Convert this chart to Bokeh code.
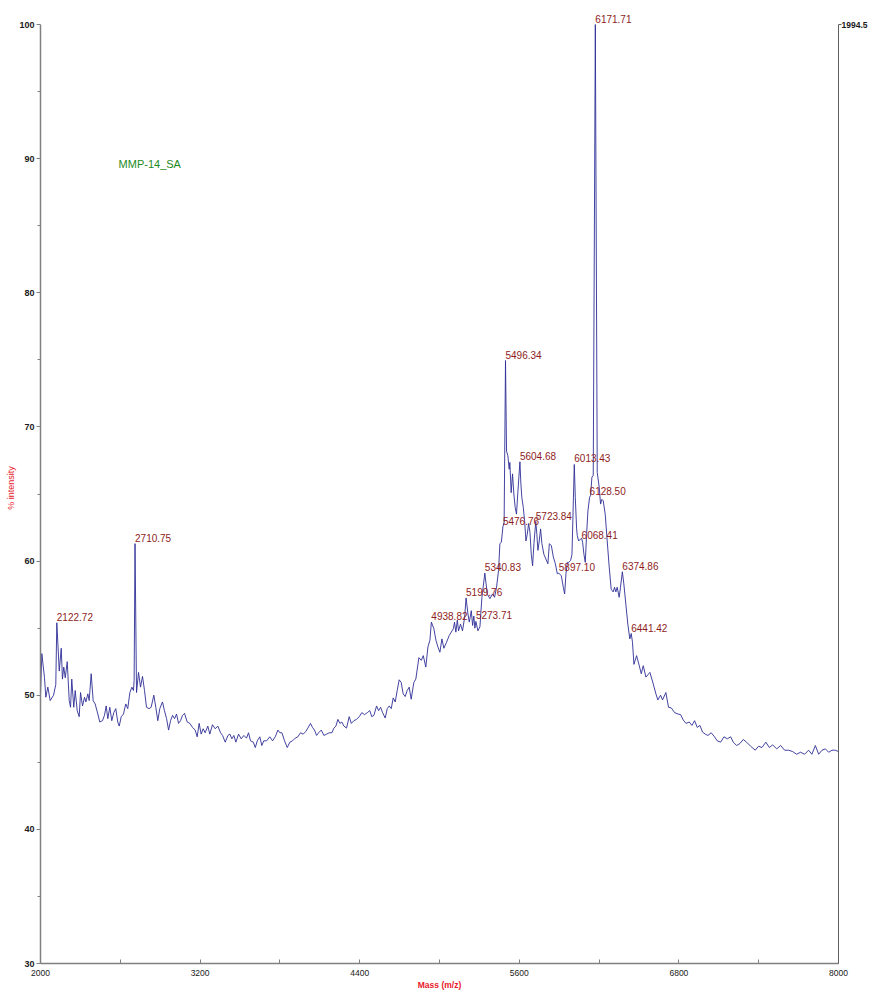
from bokeh.plotting import figure
from bokeh.models import Range1d, LinearAxis, FixedTicker, ColumnDataSource, LabelSet, Label
from bokeh.core.properties import value
from bokeh.embed import file_html
from bokeh.resources import INLINE

mass = [2000, 2010, 2030, 2040, 2055, 2073, 2098, 2115, 2122.72, 2141, 2156, 2165, 2175, 2186, 2201, 2216, 2226, 2235,
        2250, 2261, 2276, 2291, 2301, 2316, 2331, 2341, 2356, 2366, 2381, 2396, 2411, 2431, 2446, 2466, 2481, 2494,
        2506, 2521, 2536, 2551, 2566, 2581, 2592, 2607, 2624, 2641, 2656, 2672, 2687, 2699, 2704, 2710.75, 2722, 2737,
        2752, 2767, 2782, 2797, 2817, 2832, 2852, 2867, 2882, 2897, 2917, 2932, 2948, 2963, 2978, 2993, 3008, 3023,
        3038, 3053, 3068, 3083, 3103, 3123, 3143, 3163, 3178, 3193, 3208, 3223, 3238, 3258, 3273, 3293, 3314, 3333,
        3354, 3369, 3389, 3409, 3424, 3439, 3454, 3469, 3489, 3509, 3529, 3549, 3564, 3579, 3600, 3615, 3630, 3649,
        3664, 3679, 3700, 3724, 3745, 3765, 3785, 3800, 3815, 3835, 3855, 3875, 3895, 3915, 3935, 3955, 3975, 3995,
        4010, 4030, 4045, 4060, 4076, 4091, 4111, 4131, 4151, 4171, 4191, 4206, 4221, 4236, 4251, 4266, 4281, 4301,
        4321, 4337, 4356, 4376, 4397, 4416, 4436, 4457, 4476, 4491, 4507, 4527, 4542, 4557, 4572, 4592, 4607, 4622,
        4637, 4652, 4667, 4682, 4697, 4712, 4727, 4742, 4757, 4772, 4787, 4807, 4822, 4845, 4863, 4878, 4897, 4913,
        4928, 4938.82, 4958, 4973, 4988, 5003, 5018, 5033, 5053, 5073, 5088, 5104, 5113, 5123, 5134, 5143, 5158, 5173,
        5189, 5199.76, 5214, 5224, 5239, 5249, 5258, 5266, 5273.71, 5289, 5304, 5319, 5340.83, 5359, 5379, 5399, 5414,
        5429, 5444, 5454, 5465, 5476.76, 5486, 5496.34, 5504, 5514, 5524, 5529, 5539, 5549, 5559, 5569, 5579, 5589,
        5604.68, 5612, 5619, 5630, 5640, 5650, 5660, 5670, 5680, 5690, 5700, 5710, 5723.84, 5732, 5740, 5750, 5760,
        5770, 5785, 5800, 5815, 5826, 5841, 5856, 5871, 5886, 5897.10, 5916, 5931, 5941, 5951, 5961, 5971, 5986, 5996,
        6013.43, 6021, 6031, 6036, 6046, 6061, 6068.41, 6076, 6086, 6096, 6106, 6116, 6128.50, 6136, 6146, 6156,
        6171.71, 6186, 6201, 6211, 6221, 6231, 6246, 6261, 6276, 6291, 6306, 6316, 6326, 6336, 6351, 6361, 6374.86,
        6386, 6401, 6416, 6431, 6441.42, 6451, 6462, 6482, 6502, 6517, 6532, 6552, 6582, 6607, 6627, 6642, 6662, 6677,
        6702, 6722, 6743, 6768, 6793, 6813, 6833, 6853, 6878, 6898, 6918, 6938, 6958, 6978, 6998, 7018, 7043, 7068,
        7088, 7114, 7139, 7164, 7189, 7209, 7234, 7259, 7284, 7309, 7339, 7374, 7399, 7424, 7454, 7480, 7505, 7535,
        7565, 7595, 7625, 7655, 7685, 7715, 7745, 7775, 7800, 7826, 7851, 7876, 7901, 7926, 7951, 7976, 8000]

intensity = [50.0, 53.1, 51.3, 49.85, 50.6, 49.6, 50.0, 50.8, 55.4, 51.8, 53.5, 51.2, 52.1, 51.3, 52.5, 49.6, 49.1, 51.2,
             49.1, 50.35, 48.85, 48.4, 50.2, 49.2, 49.85, 49.5, 50.1, 49.6, 51.6, 49.6, 49.35, 48.6, 48.0, 48.1, 48.5, 49.2,
             48.25, 49.1, 48.1, 48.7, 49.0, 48.0, 47.7, 48.4, 48.6, 49.35, 49.0, 50.2, 50.6, 50.35, 51.1, 61.3, 50.2, 51.7,
             50.6, 51.4, 50.35, 49.1, 49.0, 49.1, 50.0, 49.1, 48.1, 49.0, 49.5, 48.85, 48.25, 47.4, 48.1, 48.5, 48.25, 48.6,
             47.9, 48.1, 48.5, 48.65, 48.0, 47.9, 47.6, 47.4, 46.9, 47.9, 47.1, 47.5, 47.2, 47.7, 47.1, 47.8, 47.5, 47.7,
             47.2, 47.0, 46.5, 47.0, 47.1, 46.75, 47.0, 46.5, 47.1, 46.75, 47.0, 46.8, 47.2, 46.6, 46.5, 46.1, 46.6, 46.9,
             46.25, 46.6, 46.6, 46.9, 46.6, 46.9, 47.4, 47.2, 47.2, 46.6, 46.1, 46.5, 46.6, 46.8, 46.9, 47.2, 47.1, 47.3,
             47.55, 47.9, 47.6, 47.4, 47.0, 47.2, 47.4, 47.0, 47.1, 47.2, 47.2, 47.55, 47.7, 48.2, 47.9, 48.0, 47.7, 47.55,
             48.4, 47.9, 48.1, 48.2, 48.4, 48.7, 48.55, 48.7, 48.85, 48.4, 48.5, 49.2, 48.85, 49.1, 48.7, 48.3, 49.0, 49.2,
             49.0, 49.8, 49.5, 50.35, 51.15, 50.95, 50.1, 49.9, 50.35, 50.6, 49.7, 50.95, 51.2, 52.8, 52.6, 52.95, 52.1, 53.6,
             54.1, 55.45, 54.95, 54.1, 53.6, 53.2, 54.2, 53.5, 53.95, 54.45, 54.7, 54.95, 55.45, 54.7, 55.6, 54.8, 55.3, 54.8,
             55.8, 57.25, 56.05, 55.45, 56.3, 55.2, 55.9, 55.0, 55.5, 54.8, 55.1, 57.3, 59.1, 57.55, 57.2, 57.55, 57.3,
             58.05, 59.3, 61.3, 61.4, 62.55, 62.9, 74.95, 68.2, 67.85, 66.85, 67.35, 65.1, 66.5, 65.0, 64.0, 63.5, 65.1,
             67.4, 65.75, 64.75, 64.0, 63.0, 61.5, 62.0, 62.8, 62.15, 60.5, 59.65, 61.3, 62.95, 62.0, 60.8, 61.5, 62.4,
             61.3, 60.5, 60.15, 59.8, 61.3, 61.15, 60.3, 59.8, 59.05, 59.1, 58.9, 58.05, 57.55, 59.05, 59.9, 59.9, 60.05, 60.5,
             67.2, 64.75, 62.4, 61.9, 61.5, 61.65, 61.7, 61.4, 60.5, 59.9, 62.0, 63.75, 64.75, 64.9, 66.25, 66.4,
             100.0, 66.6, 65.5, 64.25, 64.6, 64.5, 63.5, 61.5, 59.55, 57.9, 57.7, 58.05, 57.7, 58.05, 57.3, 58.05, 59.2,
             58.3, 56.8, 55.3, 54.2, 54.6, 53.95, 52.3, 52.95, 52.2, 51.6, 52.2, 51.35, 51.7, 50.85, 50.1, 49.65, 50.0, 49.65,
             50.2, 49.1, 49.05, 48.7, 48.6, 48.55, 48.15, 47.9, 48.0, 47.75, 48.1, 47.6, 47.75, 47.25, 47.1, 47.0, 47.2, 46.9,
             46.6, 46.5, 46.9, 46.75, 46.9, 46.5, 46.25, 46.4, 46.7, 46.5, 46.2, 45.9, 46.2, 46.1, 46.5, 46.1, 46.3, 46.0,
             46.25, 45.9, 45.9, 45.8, 45.6, 45.75, 45.6, 45.9, 45.6, 46.25, 45.6, 45.9, 46.0, 45.75, 45.9, 45.9, 45.8]

peak_mass = [2122.72, 2710.75, 4938.82, 5199.76, 5273.71, 5340.83, 5476.76, 5496.34, 5604.68, 5723.84,
             5897.10, 6013.43, 6068.41, 6128.50, 6171.71, 6374.86, 6441.42]
peak_int = [55.4, 61.3, 55.45, 57.25, 55.5, 59.1, 62.55, 74.95, 67.4, 62.95,
            59.1, 67.2, 61.5, 64.75, 100.0, 59.2, 54.6]
peak_text = ["%.2f" % m for m in peak_mass]

x_ticks = [2000, 3200, 4400, 5600, 6800, 8000]
x_minor = [2600, 3800, 5000, 6200, 7400]
y_ticks = [30, 40, 50, 60, 70, 80, 90, 100]
y_minor = [35, 45, 55, 65, 75, 85, 95]
sample_name = "MMP-14_SA"
total_counts = "1994.5"

FONT = "Liberation Sans"

# a little headroom above 100 so the top peak label is not clipped
p = figure(width=870, height=992, x_range=Range1d(2000, 8000), y_range=Range1d(30, 100.895),
           output_backend="svg", toolbar_location=None, x_axis_type=None, y_axis_type=None,
           min_border_left=40, min_border_right=32, min_border_top=12, min_border_bottom=29)
p.outline_line_color = None
p.background_fill_color = "white"
p.border_fill_color = "white"

xaxis = LinearAxis(ticker=FixedTicker(ticks=x_ticks, minor_ticks=x_minor), axis_label="Mass (m/z)")
xaxis.axis_line_color = "#808080"
xaxis.axis_line_width = 1.5
xaxis.major_tick_in = 4
xaxis.major_tick_out = 0
xaxis.minor_tick_in = 4
xaxis.minor_tick_out = 0
xaxis.major_tick_line_color = "#808080"
xaxis.minor_tick_line_color = "#808080"
xaxis.major_label_text_font = FONT
xaxis.major_label_text_font_size = "8.5px"
xaxis.major_label_text_color = "#1a1a1a"
xaxis.major_label_standoff = 6
xaxis.axis_label_text_font = FONT
xaxis.axis_label_text_font_size = "8.5px"
xaxis.axis_label_text_font_style = "bold"
xaxis.axis_label_text_color = "#e8202a"
xaxis.axis_label_standoff = 1
p.add_layout(xaxis, "below")

yaxis = LinearAxis(ticker=FixedTicker(ticks=y_ticks, minor_ticks=y_minor), axis_label="% intensity",
                   bounds=(30, 100))
yaxis.axis_line_color = "#808080"
yaxis.axis_line_width = 1.5
yaxis.major_tick_in = 0
yaxis.major_tick_out = 4
yaxis.minor_tick_in = 0
yaxis.minor_tick_out = 3
yaxis.major_tick_line_color = "#808080"
yaxis.minor_tick_line_color = "#808080"
yaxis.major_label_text_font = FONT
yaxis.major_label_text_font_size = "9px"
yaxis.major_label_text_font_style = "bold"
yaxis.major_label_text_color = "#1a1a1a"
yaxis.major_label_standoff = 2
yaxis.axis_label_text_font = FONT
yaxis.axis_label_text_font_size = "9px"
yaxis.axis_label_text_font_style = "normal"
yaxis.axis_label_text_color = "#e8202a"
yaxis.axis_label_standoff = 0
p.add_layout(yaxis, "left")

raxis = LinearAxis(ticker=FixedTicker(ticks=[100], minor_ticks=[]),
                   major_label_overrides={100: total_counts}, bounds=(30, 100))
raxis.axis_line_color = "#606060"
raxis.axis_line_width = 1
raxis.major_tick_in = 0
raxis.major_tick_out = 3
raxis.major_tick_line_color = "#606060"
raxis.major_label_text_font = FONT
raxis.major_label_text_font_size = "8.5px"
raxis.major_label_text_font_style = "bold"
raxis.major_label_text_color = "#1a1a1a"
raxis.major_label_standoff = 0
p.add_layout(raxis, "right")

p.line(mass, intensity, line_color="#2e2e96", line_width=0.9)

src = ColumnDataSource(dict(x=peak_mass, y=peak_int, t=peak_text))
labels = LabelSet(x="x", y="y", text="t", source=src, text_font=value(FONT), text_font_size=value("10px"),
                  text_color=value("#8e1c1c"), text_align=value("left"), text_baseline=value("bottom"),
                  y_offset=2)
p.add_layout(labels)

p.add_layout(Label(x=2587, y=89.6, text=sample_name, text_font=FONT, text_font_size="11px",
                   text_color="#1e8a1e", text_align="left", text_baseline="middle"))

open("out.html", "w").write(file_html(p, INLINE))
